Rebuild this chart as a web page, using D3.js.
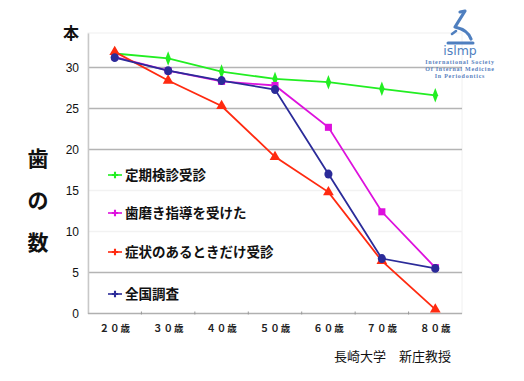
<!DOCTYPE html>
<html><head><meta charset="utf-8">
<script src="https://cdn.jsdelivr.net/npm/d3@7"></script>
<style>body{margin:0;background:#fff;}svg{display:block;}</style>
</head><body>
<svg id="c" width="524" height="381"></svg>
<script>
const ages = ["２０歳","３０歳","４０歳","５０歳","６０歳","７０歳","８０歳"];
const yTicks = [0,5,10,15,20,25,30];
const seriesNames = ["定期検診受診","歯磨き指導を受けた","症状のあるときだけ受診","全国調査"];
const teikiValues = [31.7,31.1,29.5,28.6,28.2,27.4,26.6];
const hamigakiValues = [31.3,29.6,28.3,27.8,22.7,12.4,5.6];
const shojoValues = [31.9,28.4,25.3,19.1,14.8,6.4,0.5];
const zenkokuValues = [31.2,29.6,28.4,27.3,17.0,6.7,5.5];
const colors = ["#22ee22","#dd11dd","#ff2a10","#2b2b99"];
const markers = ["diamond","square","triangle","circle"];
const allSeries = [teikiValues,hamigakiValues,shojoValues,zenkokuValues];

const svg = d3.select("#c");
const L=88, R=462, T=33, B=313.5;
const x = d3.scalePoint().domain(ages).range([L,R]).padding(0.5);
const xb = d3.scaleBand().domain(ages).range([L,R]);
const y = d3.scaleLinear().domain([0,34.2]).range([B,T]);

svg.append("rect").attr("x",L).attr("y",T).attr("width",R-L).attr("height",B-T)
  .attr("fill","none").attr("stroke","#f0f0f0");
const gridColor = v => (v===10||v===15)?"#f2f2f2":"#b4b4b4";
svg.append("g").selectAll("line").data(yTicks.filter(v=>v>0)).join("line")
  .attr("x1",L).attr("x2",R).attr("y1",d=>y(d)).attr("y2",d=>y(d))
  .attr("stroke",gridColor).attr("stroke-width",1.6);

const ya = svg.append("g").attr("transform",`translate(${L},0)`)
  .call(d3.axisLeft(y).tickValues(yTicks).tickSize(0).tickPadding(9));
ya.select(".domain").attr("stroke","#c8c8c8").attr("stroke-width",1.5);
ya.selectAll("text").attr("font-family","Liberation Sans, Arial, sans-serif").attr("font-size",12).attr("fill","#111");

const xa = svg.append("g").attr("transform",`translate(0,${B})`)
  .call(d3.axisBottom(x).tickSize(0).tickPadding(12));
xa.select(".domain").remove();
svg.append("line").attr("x1",L).attr("x2",R).attr("y1",B).attr("y2",B).attr("stroke","#b0b0b0").attr("stroke-width",1.6);
svg.append("g").selectAll("line").data(ages.slice(1)).join("line")
  .attr("x1",d=>xb(d)).attr("x2",d=>xb(d)).attr("y1",B-2).attr("y2",B+1).attr("stroke","#999");
xa.selectAll("text").attr("font-family","Noto Sans CJK JP, sans-serif").attr("font-size",9.5).attr("font-weight","bold").attr("fill","#222").attr("letter-spacing","1px");

const line = d3.line().x((d,i)=>x(ages[i])).y(d=>y(d));
const symType = {diamond:d3.symbolDiamond, square:d3.symbolSquare, triangle:d3.symbolTriangle, circle:d3.symbolCircle};
const symSize = {diamond:42, square:50, triangle:50, circle:52};
allSeries.forEach((vals,k)=>{
  svg.append("path").datum(vals).attr("d",line).attr("fill","none")
    .attr("stroke",colors[k]).attr("stroke-width",1.8);
});
allSeries.forEach((vals,k)=>{
  svg.append("g").selectAll("path").data(vals).join("path")
    .attr("transform",(d,i)=>`translate(${x(ages[i])},${y(d)})${markers[k]==="circle"?" scale(1,1.1)":""}${markers[k]==="diamond"?" scale(0.8,1.2)":""}`)
    .attr("d",d3.symbol().type(symType[markers[k]]).size(symSize[markers[k]]))
    .attr("fill",colors[k]);
});

const legY = [175,213,252,294];
seriesNames.forEach((n,k)=>{
  const g = svg.append("g").attr("transform",`translate(108,${legY[k]})`);
  g.append("line").attr("x1",0).attr("x2",14).attr("stroke",colors[k]).attr("stroke-width",1.6);
  g.append("path").attr("transform","translate(7,0)").attr("d",d3.symbol().type(d3.symbolCross).size(22)).attr("fill",colors[k]);
  g.append("text").attr("x",17).attr("y",5).text(n)
    .attr("font-family","Noto Sans CJK JP, sans-serif").attr("font-weight","bold").attr("font-size",13.5).attr("fill","#111");
});

svg.append("text").attr("x",71).attr("y",39).attr("text-anchor","middle").text("本")
  .attr("font-family","Noto Sans CJK JP, sans-serif").attr("font-weight","bold").attr("font-size",16).attr("fill","#111");
["歯","の","数"].forEach((c,i)=>{
  svg.append("text").attr("x",38).attr("y",166+i*42).attr("text-anchor","middle").text(c)
    .attr("font-family","Noto Sans CJK JP, sans-serif").attr("font-weight","bold").attr("font-size",21).attr("fill","#111");
});

svg.append("text").attr("x",334).attr("y",361).text("長崎大学　新庄教授")
  .attr("font-family","Noto Sans CJK JP, sans-serif").attr("font-size",13).attr("fill","#111");

// logo
const lc = "#4f7fbf";
const lg = svg.append("g").attr("fill","none").attr("stroke",lc).attr("stroke-linecap","round").attr("stroke-linejoin","round");
lg.append("path").attr("d","M460,12 L465,11 L455,27 Q468,30 471,39").attr("stroke-width",3.2);
lg.append("path").attr("d","M448,43 L473,43").attr("stroke-width",3);
lg.append("path").attr("d","M452,34 L456,31").attr("stroke-width",2.6);
svg.append("text").attr("x",460).attr("y",55).attr("text-anchor","middle").text("islmp")
  .attr("font-family","DejaVu Sans, sans-serif").attr("font-size",12.5).attr("fill",lc);
["International Society","Of Internal Medicine","In Periodontics"].forEach((t,i)=>{
  svg.append("text").attr("x",460).attr("y",64+i*7).attr("text-anchor","middle").text(t)
    .attr("font-family","Liberation Serif, serif").attr("font-size",6).attr("letter-spacing","0.75px")
    .attr("font-weight","bold").attr("fill","#5a82c0");
});
</script>
</body></html>
